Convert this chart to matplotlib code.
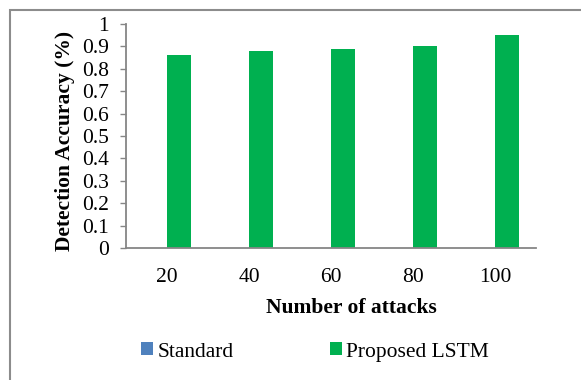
import matplotlib.pyplot as plt
import numpy as np
from matplotlib.patches import Rectangle

plt.rcParams["font.family"] = ["Liberation Serif", "DejaVu Serif"]

attacks = ["20", "40", "60", "80", "100"]
standard = [0, 0, 0, 0, 0]
proposed_lstm = [0.86, 0.88, 0.89, 0.90, 0.95]
y_ticks = [0, 0.1, 0.2, 0.3, 0.4, 0.5, 0.6, 0.7, 0.8, 0.9, 1]
y_tick_labels = ["0", "0.1", "0.2", "0.3", "0.4", "0.5", "0.6", "0.7", "0.8", "0.9", "1"]

W, H = 581, 380
FS = 15.5
AXIS_GREY = "#868686"

fig = plt.figure(figsize=(W / 100, H / 100), dpi=100)
ax = fig.add_axes([126 / W, 1 - 248 / H, 410 / W, 224 / H])

x = np.arange(len(attacks))
width = 0.293
b1 = ax.bar(x - width / 2, standard, width, color="#4F81BD", label="Standard")
b2 = ax.bar(x + width / 2, proposed_lstm, width, color="#00B050", label="Proposed LSTM")

ax.set_xlim(-0.5, len(attacks) - 0.5)
ax.set_ylim(0, 1)
ax.set_yticks(y_ticks)
ax.set_yticklabels(y_tick_labels)
ax.set_xticks(x)
ax.set_xticklabels(attacks)

for side in ("top", "right"):
    ax.spines[side].set_visible(False)
for side in ("left", "bottom"):
    ax.spines[side].set_color(AXIS_GREY)
    ax.spines[side].set_linewidth(1.3)

ax.tick_params(axis="y", length=4.5, width=1.0, color=AXIS_GREY, pad=8.0, labelsize=FS)
ax.tick_params(axis="x", length=0, pad=14.5, labelsize=FS)

fig.text(65 / W, 1 - 141 / H, "Detection Accuracy (%)", rotation=90, ha="center", va="center",
         fontsize=FS, fontweight="bold")
fig.text(351 / W, 1 - 308 / H, "Number of attacks", ha="center", va="center",
         fontsize=FS, fontweight="bold")

fig.legend(handles=[b1, b2], loc="center", bbox_to_anchor=(315 / W, 1 - 352 / H), ncol=2,
           frameon=False, fontsize=FS, handlelength=0.55, handleheight=0.55,
           handletextpad=0.2, columnspacing=4.5, borderpad=0)

# chart area border
fig.add_artist(Rectangle((10 / W, -0.1), 1.2, 1 - 10 / H + 0.1, transform=fig.transFigure,
                         fill=False, edgecolor="#8C8C8C", linewidth=1.5))

fig.savefig("out.png", dpi=100)
